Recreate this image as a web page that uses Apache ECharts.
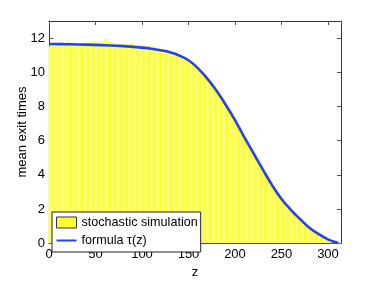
<!DOCTYPE html>
<html><head><meta charset="utf-8">
<script src="https://cdn.jsdelivr.net/npm/echarts@6/dist/echarts.min.js"></script>
<style>html,body{margin:0;padding:0;background:#fff}#c{width:377px;height:284px}</style>
</head><body><div id="c"></div>
<script>
// Bar (simulation) centers, step 2 in z
var simZ = [];
for (var k = 1; k <= 311; k += 2) simZ.push(k);
var simValues = [
11.55,11.6,11.7,11.62,11.58,11.66,11.6,11.72,11.63,11.7,
11.86,11.6,11.65,11.58,11.68,11.62,11.55,11.7,11.64,11.6,
11.75,11.62,11.78,11.66,11.8,11.7,11.78,11.62,11.82,11.7,
11.95,11.68,11.78,11.6,11.74,11.66,11.58,11.7,11.62,11.56,
11.66,11.6,11.52,11.64,11.7,11.55,11.62,11.5,11.58,11.48,
11.6,11.5,11.42,11.55,11.46,11.4,11.5,11.36,11.44,11.3,
11.38,11.26,11.32,11.22,11.28,11.15,11.2,11.08,11.12,11.0,
11.02,10.9,10.88,10.78,10.75,10.62,10.58,10.45,10.4,10.28,
10.18,10.1,9.98,9.88,9.75,9.62,9.5,9.36,9.22,9.08,
8.93,8.76,8.6,8.43,8.26,8.08,7.9,7.72,7.54,7.36,
7.18,6.98,6.78,6.58,6.38,6.18,5.98,5.78,5.58,5.4,
5.22,5.04,4.85,4.66,4.48,4.28,4.1,3.92,3.74,3.56,
3.38,3.22,3.06,2.9,2.74,2.58,2.45,2.32,2.2,2.08,
1.95,1.85,1.74,1.63,1.51,1.4,1.3,1.2,1.1,1.0,
0.9,0.82,0.74,0.66,0.59,0.52,0.45,0.39,0.33,0.27,
0.22,0.17,0.13,0.09,0.05,0.02
];
// Formula curve tau(z)
var curveZ = [0,20,40,60,80,100,110,120,130,140,150,160,170,180,190,200,210,220,230,240,250,260,270,280,290,300,305,311];
var curveV = [11.65,11.64,11.62,11.58,11.53,11.44,11.38,11.29,11.17,10.98,10.7,10.24,9.64,8.93,8.1,7.2,6.2,5.25,4.3,3.38,2.58,1.95,1.4,0.9,0.52,0.22,0.11,0];
var xTicks = [0,50,100,150,200,250,300];
var yTicks = [0,2,4,6,8,10,12];

var barData = simZ.map(function(z,i){
  var c = (i%3===1) ? '#f9fc86' : (i%7===4 ? '#ffff28' : '#fbfd48');
  return {value:[z, simValues[i]], itemStyle:{color:c}};
});
var lineData = curveZ.map(function(z,i){return [z, curveV[i]];});

var FONT = 'Liberation Sans, Arial, Helvetica, sans-serif';
var axisLine = {show:true, onZero:false, lineStyle:{color:'#333', width:1}};
var tick = {show:true, inside:true, length:4, lineStyle:{color:'#555'}};
var chart = echarts.init(document.getElementById('c'), null, {renderer:'canvas'});
chart.setOption({
  animation:false,
  backgroundColor:'#fff',
  grid:{left:49, right:36, top:21, bottom:33, containLabel:false},
  legend:{
    orient:'vertical', left:52, top:212,
    backgroundColor:'#fff', borderColor:'#222', borderWidth:1,
    padding:[4,3,5,4], itemGap:5, itemWidth:20, itemHeight:11, itemTextGap:2,
    symbolKeepAspect:true,
    textStyle:{fontFamily:FONT, fontSize:12.6, color:'#000'},
    data:[
      {name:'stochastic simulation', icon:'rect', itemStyle:{color:'#ffff30', borderColor:'#333', borderWidth:1}},
      {name:'formula τ(z)', icon:'path://M0,0 H40 V4 H0 Z', itemStyle:{color:'#2442f2'}}
    ]
  },
  xAxis:[
    {type:'value', min:0, max:314, interval:50, position:'bottom',
     name:'z', nameLocation:'middle', nameGap:16,
     nameTextStyle:{fontFamily:FONT, fontSize:13, color:'#000'},
     axisLine:axisLine, axisTick:tick,
     axisLabel:{fontFamily:FONT, fontSize:13, color:'#000', margin:5, showMaxLabel:false},
     splitLine:{show:false}},
    {type:'value', min:0, max:314, interval:50, position:'top',
     axisLine:axisLine, axisTick:tick,
     axisLabel:{show:false}, splitLine:{show:false}}
  ],
  yAxis:[
    {type:'value', min:0, max:13, interval:2, position:'left',
     name:'mean exit times', nameLocation:'middle', nameGap:20, nameRotate:90,
     nameMoveOverlap:false,
     nameTextStyle:{fontFamily:FONT, fontSize:13, color:'#000'},
     axisLine:axisLine, axisTick:tick,
     axisLabel:{fontFamily:FONT, fontSize:13, color:'#000', margin:4, showMaxLabel:false},
     splitLine:{show:false}},
    {type:'value', min:0, max:13, interval:2, position:'right',
     axisLine:axisLine, axisTick:tick,
     axisLabel:{show:false}, splitLine:{show:false}}
  ],
  series:[
    {name:'stochastic simulation', type:'bar', barWidth:3, barGap:'-100%', data:barData,
     itemStyle:{color:'#ffff30'}, clip:true, z:1},
    {name:'formula τ(z)', type:'line', data:lineData, smooth:0.4, symbol:'none',
     lineStyle:{color:'#2442f2', width:2.6}, itemStyle:{color:'#2442f2'}, z:3}
  ]
});
</script></body></html>
